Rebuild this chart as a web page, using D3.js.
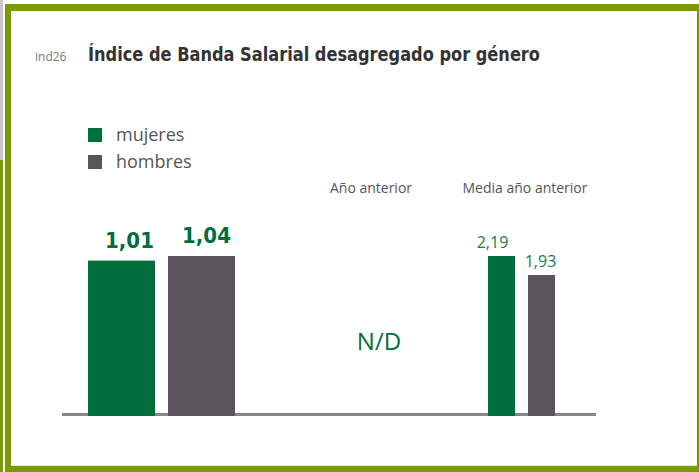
<!DOCTYPE html>
<html><head><meta charset="utf-8">
<script src="https://cdn.jsdelivr.net/npm/d3@7"></script>
<style>
html,body{margin:0;padding:0;background:#fff;}
svg{display:block;}
</style></head>
<body>
<svg id="chart" width="699" height="472"></svg>
<script>
const categories = ["mujeres", "hombres"];
const currentValues = [1.01, 1.04];
const previousYearText = "N/D";
const previousAverageValues = [2.19, 1.93];
const currentLabels = ["1,01", "1,04"];
const previousAverageLabels = ["2,19", "1,93"];
const columnTitles = ["Año anterior", "Media año anterior"];
const chartTitle = "Índice de Banda Salarial desagregado por género";
const chartCode = "ind26";

const colors = {mujeres: "#006f3e", hombres: "#5a555b"};
const olive = "#7a9a01";
const svg = d3.select("#chart");
const sans = "'Open Sans', 'Noto Sans', sans-serif";
const mainLabelNudge = [8, 5];
const smallLabelNudge = [-9, -1];

// Frame
svg.append("rect").attr("x", 0).attr("y", 0).attr("width", 3).attr("height", 160).attr("fill", "#c8c8c8");
svg.append("rect").attr("x", 0).attr("y", 160).attr("width", 3).attr("height", 312).attr("fill", olive);
svg.append("rect").attr("x", 5).attr("y", 4).attr("width", 6).attr("height", 468).attr("fill", olive);
svg.append("rect").attr("x", 5).attr("y", 4).attr("width", 693).attr("height", 7).attr("fill", olive);
svg.append("rect").attr("x", 697).attr("y", 4).attr("width", 2).attr("height", 464).attr("fill", olive);
svg.append("rect").attr("x", 11).attr("y", 465).attr("width", 686).attr("height", 1).attr("fill", "#e3e8d0");
svg.append("rect").attr("x", 5).attr("y", 466).attr("width", 694).attr("height", 6).attr("fill", olive);

// Title
svg.append("text").attr("x", 35).attr("y", 61).text(chartCode)
  .attr("font-family", sans).attr("font-size", 12).attr("fill", "#777");
svg.append("text").attr("x", 88).attr("y", 61).text(chartTitle)
  .attr("font-family", "'DejaVu Sans Condensed', 'DejaVu Sans', sans-serif")
  .attr("font-weight", "bold").attr("font-size", 20).attr("fill", "#333")
  .attr("textLength", 452).attr("lengthAdjust", "spacingAndGlyphs");

// Legend
const legend = svg.append("g").selectAll("g").data(categories).join("g")
  .attr("transform", (d, i) => `translate(88,${128 + i * 27})`);
legend.append("rect").attr("width", 14).attr("height", 14).attr("fill", d => colors[d]);
legend.append("text").attr("x", 28).attr("y", 12.5).text(d => d)
  .attr("font-family", sans).attr("font-size", 18).attr("fill", "#555");

// Baseline
const baseY = 416;
svg.append("line").attr("x1", 62).attr("x2", 596).attr("y1", 414.5).attr("y2", 414.5)
  .attr("stroke", "#888").attr("stroke-width", 3);

// Current bars
const xMain = d3.scaleBand().domain(categories).range([88, 235]).paddingInner(0.1625).paddingOuter(0);
const yMain = d3.scaleLinear().domain([0, 1.04]).range([baseY, 256]);
svg.append("g").selectAll("rect").data(categories).join("rect")
  .attr("x", d => xMain(d)).attr("width", xMain.bandwidth())
  .attr("y", (d, i) => yMain(currentValues[i]))
  .attr("height", (d, i) => baseY - yMain(currentValues[i]))
  .attr("fill", d => colors[d]);
svg.append("g").selectAll("text").data(categories).join("text")
  .attr("x", (d, i) => xMain(d) + xMain.bandwidth() / 2 + mainLabelNudge[i])
  .attr("y", (d, i) => yMain(currentValues[i]) - 13)
  .attr("text-anchor", "middle").text((d, i) => currentLabels[i])
  .attr("font-family", "'DejaVu Sans Condensed', 'DejaVu Sans', sans-serif").attr("font-weight", "bold")
  .attr("font-size", 22).attr("fill", colors.mujeres);

// Column titles
svg.append("text").attr("x", 371).attr("y", 193).attr("text-anchor", "middle").text(columnTitles[0])
  .attr("font-family", sans).attr("font-size", 14).attr("fill", "#555");
svg.append("text").attr("x", 525).attr("y", 193).attr("text-anchor", "middle").text(columnTitles[1])
  .attr("font-family", sans).attr("font-size", 14).attr("fill", "#555");

// N/D
svg.append("text").attr("x", 379).attr("y", 350).attr("text-anchor", "middle").text(previousYearText)
  .attr("font-family", sans).attr("font-size", 24).attr("fill", colors.mujeres);

// Previous average bars
const xSmall = d3.scaleBand().domain(categories).range([488, 555]).paddingInner(0.325).paddingOuter(0);
const ySmall = d3.scaleLinear().domain([0, 2.19]).range([baseY, 256]);
svg.append("g").selectAll("rect").data(categories).join("rect")
  .attr("x", d => xSmall(d)).attr("width", xSmall.bandwidth())
  .attr("y", (d, i) => ySmall(previousAverageValues[i]))
  .attr("height", (d, i) => baseY - ySmall(previousAverageValues[i]))
  .attr("fill", d => colors[d]);
svg.append("g").selectAll("text").data(categories).join("text")
  .attr("x", (d, i) => xSmall(d) + xSmall.bandwidth() / 2 + smallLabelNudge[i])
  .attr("y", (d, i) => ySmall(previousAverageValues[i]) - 8)
  .attr("text-anchor", "middle").text((d, i) => previousAverageLabels[i])
  .attr("font-family", sans).attr("font-size", 16).attr("fill", "#1a7a4a");
</script>
</body></html>
